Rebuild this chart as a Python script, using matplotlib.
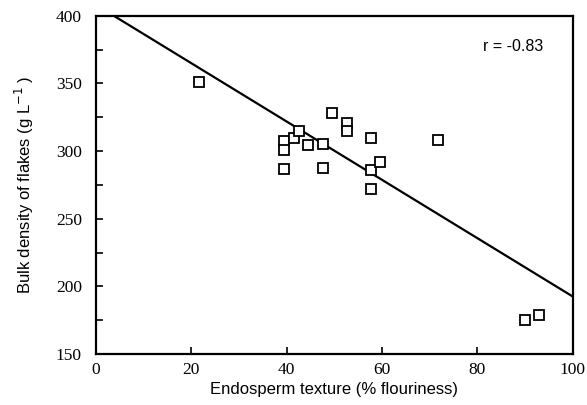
import matplotlib
matplotlib.use("Agg")
import matplotlib.pyplot as plt
from matplotlib.ticker import MultipleLocator

# flouriness (%) and bulk density (g/L)
texture = [21.6, 39.5, 39.5, 39.5, 41.5, 42.6, 44.5, 47.7, 47.7, 49.5,
           52.6, 52.6, 57.6, 57.6, 57.6, 59.5, 71.8, 89.9, 92.9]
density = [350.7, 307.8, 300.9, 286.6, 309.5, 315.2, 304.6, 305.1, 287.8, 328.5,
           320.6, 314.9, 309.5, 285.9, 271.8, 292.0, 308.1, 175.1, 178.8]

# regression line
fit_intercept = 408.2
fit_slope = -2.158
fit_x = [0, 100]
r_text = "r = -0.83"

fig = plt.figure(figsize=(5.87, 4.05), dpi=100)
ax = fig.add_axes([0.163, 0.126, 0.813, 0.835])

ax.plot(fit_x, [fit_intercept + fit_slope * x for x in fit_x], color="black", lw=1.6)
ax.plot(texture, density, linestyle="none", marker="s", ms=6.5,
        mfc="white", mec="black", mew=1.3)

ax.set_xlim(0, 100)
ax.set_ylim(150, 400)
ax.xaxis.set_major_locator(MultipleLocator(20))
ax.yaxis.set_major_locator(MultipleLocator(50))
ax.yaxis.set_minor_locator(MultipleLocator(25))
ax.tick_params(which="both", direction="in", top=False, right=False,
               length=5, width=1.2, labelsize=12.5)
ax.tick_params(axis="y", pad=10)
ax.tick_params(axis="x", pad=6)
for lab in ax.get_xticklabels() + ax.get_yticklabels():
    lab.set_family("Liberation Serif")
for s in ax.spines.values():
    s.set_linewidth(1.6)

ax.text(87.5, 377, r_text, fontsize=11.5, family="Liberation Sans", ha="center", va="center")
ax.set_xlabel("Endosperm texture (% flouriness)", fontsize=12, family="Liberation Sans", labelpad=3)
ax.set_ylabel("Bulk density of flakes (g L$^{-1}$ )", fontsize=12, family="Liberation Sans", labelpad=14)

fig.savefig("out.png", dpi=100)
